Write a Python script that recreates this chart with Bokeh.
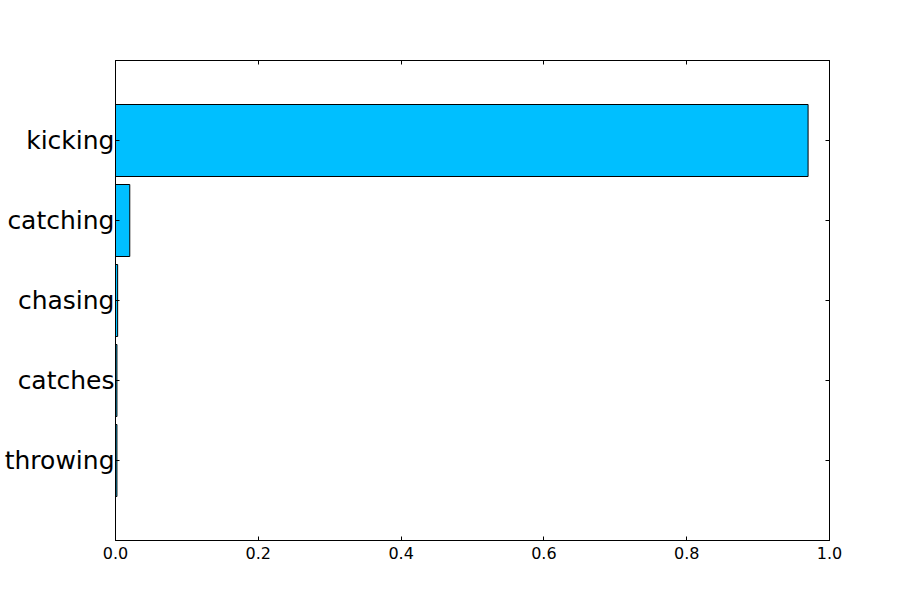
from bokeh.plotting import figure
from bokeh.models import (ColumnDataSource, LinearAxis, FixedTicker, Range1d)
from bokeh.embed import file_html
from bokeh.resources import INLINE

categories = ["throwing", "catches", "chasing", "catching", "kicking"]
values = [0.002, 0.002, 0.003, 0.02, 0.97]
x_ticks = [0.0, 0.2, 0.4, 0.6, 0.8, 1.0]

positions = list(range(len(categories)))

src = ColumnDataSource(dict(y=positions, v=values, name=categories))

p = figure(width=905, height=584, output_backend="svg", toolbar_location=None,
           x_range=Range1d(0, 1), y_range=Range1d(-1, len(categories)),
           min_border_left=115, min_border_right=76,
           min_border_top=60, min_border_bottom=44,
           x_axis_location=None, y_axis_location=None)
p.grid.visible = False
p.outline_line_color = "black"
p.outline_line_width = 1
p.background_fill_color = "white"
p.border_fill_color = "white"

p.hbar(y="y", left=0, right="v", height=0.9, source=src,
       fill_color="#00BFFF", line_color="black", line_width=1)

font = "DejaVu Sans"

def make_axis(ticks, labels, size="16px", standoff=7):
    ax = LinearAxis(ticker=FixedTicker(ticks=ticks))
    ax.axis_line_color = "black"
    ax.major_tick_in = 4
    ax.major_tick_out = 0
    ax.major_tick_line_color = "black"
    ax.minor_tick_line_color = None
    ax.major_label_text_font = font
    ax.major_label_text_color = "black"
    ax.major_label_text_font_size = size
    ax.major_label_standoff = standoff
    ax.major_label_overrides = {t: l for t, l in zip(ticks, labels)}
    return ax

p.add_layout(make_axis(x_ticks, [f"{t:.1f}" for t in x_ticks], standoff=6), "below")
p.add_layout(make_axis(x_ticks, [""] * len(x_ticks), standoff=0), "above")
p.add_layout(make_axis(positions, categories, size="25px", standoff=1), "left")
p.add_layout(make_axis(positions, [""] * len(positions), standoff=0), "right")

open("out.html", "w").write(file_html(p, INLINE))
